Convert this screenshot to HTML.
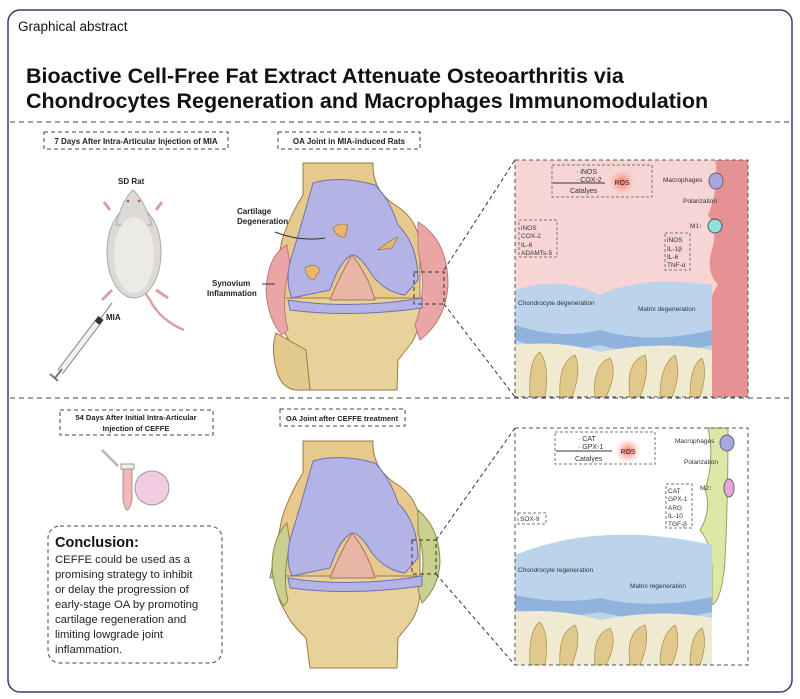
<!DOCTYPE html>
<html><head><meta charset="utf-8">
<style>
html,body{margin:0;padding:0;background:#fff;}
svg{display:block;font-family:"Liberation Sans",Arial,sans-serif;}
</style></head>
<body>
<svg width="800" height="699" viewBox="0 0 800 699" xmlns="http://www.w3.org/2000/svg">
<defs>
<radialGradient id="ros" cx="50%" cy="50%" r="50%"><stop offset="0" stop-color="#ff6b5a"/><stop offset="1" stop-color="#ffb4a8" stop-opacity="0"/></radialGradient>
</defs>
<rect x="8" y="10" width="784" height="682" rx="12" fill="#fff" stroke="#3a3d6a" stroke-width="1.5"/>
<text x="18" y="31" font-size="13.5" fill="#111">Graphical abstract</text>
<text x="26" y="83" font-size="21.5" font-weight="bold" fill="#111">Bioactive Cell-Free Fat Extract Attenuate Osteoarthritis via</text>
<text x="26" y="108" font-size="21.5" font-weight="bold" fill="#111">Chondrocytes Regeneration and Macrophages Immunomodulation</text>
<line x1="10" y1="122" x2="790" y2="122" stroke="#444" stroke-dasharray="5,4" stroke-width="1"/>
<line x1="10" y1="398" x2="790" y2="398" stroke="#444" stroke-dasharray="5,4" stroke-width="1"/>

<rect x="44" y="132" width="184" height="17" fill="none" stroke="#444" stroke-dasharray="4,3"/>
<text x="136" y="144" font-size="8" font-weight="bold" text-anchor="middle" fill="#222">7 Days After Intra-Articular Injection of MIA</text>
<rect x="278" y="132" width="142" height="17" fill="none" stroke="#444" stroke-dasharray="4,3"/>
<text x="349" y="144" font-size="8" font-weight="bold" text-anchor="middle" fill="#222">OA Joint in MIA-induced Rats</text>

<!-- rat -->
<g>
<text x="118" y="184" font-size="8" font-weight="bold" fill="#222">SD Rat</text>
<path d="M184 330 Q160 320 150 300 Q140 285 135 280" stroke="#d9a0a0" stroke-width="2.5" fill="none"/>
<path d="M110 210 L104 202 M156 210 L162 202" stroke="#d9a0a0" stroke-width="3"/>
<path d="M112 290 L102 300 M156 290 L168 298" stroke="#d9a0a0" stroke-width="3"/>
<ellipse cx="134" cy="252" rx="27" ry="46" fill="#ddd9d4" stroke="#aaa"/>
<path d="M116 225 Q122 200 133 190 Q144 200 152 225Z" fill="#ddd9d4" stroke="#aaa"/>
<ellipse cx="134" cy="255" rx="20" ry="38" fill="#eceae6"/>
<circle cx="128" cy="201" r="1.3" fill="#b55"/><circle cx="139" cy="201" r="1.3" fill="#b55"/>
<text x="106" y="320" font-size="8" font-weight="bold" fill="#222">MIA</text>
<line x1="60" y1="372" x2="101" y2="318" stroke="#888" stroke-width="7"/>
<line x1="60" y1="372" x2="101" y2="318" stroke="#f1f1f1" stroke-width="5"/>
<line x1="97" y1="323" x2="101" y2="318" stroke="#333" stroke-width="6"/>
<line x1="101" y1="318" x2="112" y2="303" stroke="#777" stroke-width="1"/>
<line x1="55" y1="378" x2="62" y2="369" stroke="#777" stroke-width="2"/>
<line x1="50" y1="374" x2="58" y2="381" stroke="#777" stroke-width="2"/>
</g>

<!-- knee top -->
<g id="knee1">
<path d="M303 163 L373 163 Q372 190 395 205 Q420 220 420 250 L420 300 L270 300 L282 240 Q290 215 303 195Z" fill="#e7c98c" stroke="#9a7a45"/>
<path d="M275 298 L420 298 Q422 330 410 345 L398 360 L397 390 L310 390 L306 360 Q290 345 285 333 Q276 320 275 298Z" fill="#e7d39a" stroke="#9a7a45"/>
<path d="M276 333 Q270 350 278 375 Q285 392 302 390 L310 390 L306 350Z" fill="#e2c98c" stroke="#9a7a45"/>
<path d="M287 245 Q268 255 266 290 Q268 320 282 335 L288 330 Q280 300 290 265Z" fill="#eaa5a5" stroke="#c07878"/>
<path d="M418 222 Q448 240 448 285 Q446 320 420 340 L415 325 Q428 290 418 250Z" fill="#eaa5a5" stroke="#c07878"/>
<path d="M313 183 Q340 175 375 185 Q390 200 398 225 Q418 245 418 280 L405 295 Q385 292 372 275 Q360 255 352 255 Q340 260 330 290 L292 298 Q284 280 292 255 Q300 230 313 183Z" fill="#b3b3e6" stroke="#7070b0"/>
<path d="M352 255 Q340 275 330 300 L375 300 Q368 275 352 255Z" fill="#e9b5a5" stroke="#a87060"/>
<path d="M288 300 Q350 310 422 298 L422 308 Q350 318 290 310Z" fill="#b3b3e6" stroke="#7070b0"/>
<g fill="#e9b76a" stroke="#8a6a3a" stroke-width="0.6">
<path d="M333 228 Q340 222 348 225 L345 237 Q337 238 333 228Z"/>
<path d="M378 250 Q390 240 398 237 L392 248Z"/>
<path d="M305 268 Q315 262 320 270 L314 280 Q306 278 305 268Z"/>
</g>
<text x="237" y="214" font-size="8" font-weight="bold" fill="#222">Cartilage</text>
<text x="237" y="224" font-size="8" font-weight="bold" fill="#222">Degeneration</text>
<path d="M275 232 Q300 242 325 238" stroke="#333" fill="none"/>
<text x="212" y="286" font-size="8" font-weight="bold" fill="#222">Synovium</text>
<text x="207" y="296" font-size="8" font-weight="bold" fill="#222">Inflammation</text>
<line x1="262" y1="284" x2="275" y2="284" stroke="#333"/>
<rect x="414" y="272" width="30" height="32" fill="none" stroke="#333" stroke-dasharray="4,3"/>
<line x1="444" y1="270" x2="515" y2="160" stroke="#333" stroke-dasharray="4,3"/>
<line x1="444" y1="304" x2="515" y2="397" stroke="#333" stroke-dasharray="4,3"/>
</g>

<!-- top detail panel -->
<g>
<rect x="515" y="160" width="233" height="237" fill="#f7d5d5"/>
<path d="M715 160 L748 160 L748 397 L712 397 L712 340 Q705 300 718 285 Q705 270 712 250 Q718 230 708 215 Q720 185 715 160Z" fill="#e79292"/>
<path d="M515 290 Q560 275 600 295 Q640 275 712 285 L712 397 L515 397Z" fill="#bcd3ec"/>
<path d="M515 325 Q560 340 600 330 Q650 345 712 330 L712 345 Q650 360 600 345 Q560 355 515 340Z" fill="#8fb3dd"/>
<path d="M515 345 Q560 340 600 352 Q660 340 712 350 L712 397 L515 397Z" fill="#f0ead0"/>
<g fill="#e0c98a" stroke="#a08040" stroke-width="0.6">
<path d="M530 397 Q528 360 540 352 Q550 365 545 397Z"/><path d="M560 397 Q558 362 575 355 Q582 370 572 397Z"/>
<path d="M595 397 Q592 365 610 358 Q618 372 606 397Z"/><path d="M630 397 Q625 362 645 355 Q650 372 640 397Z"/>
<path d="M660 397 Q660 365 675 355 Q682 372 672 397Z"/><path d="M690 397 Q690 365 702 358 Q708 372 700 397Z"/>
</g>
<rect x="515" y="160" width="233" height="237" fill="none" stroke="#555" stroke-dasharray="4,3"/>
<rect x="552" y="165" width="100" height="32" fill="none" stroke="#777" stroke-dasharray="3,2"/>
<text x="576" y="174" font-size="7" fill="#333">· iNOS</text>
<text x="576" y="182" font-size="7" fill="#333">· COX-2</text>
<line x1="553" y1="183" x2="605" y2="183" stroke="#334"/>
<text x="570" y="193" font-size="7" fill="#333">Catalyes</text>
<circle cx="622" cy="182" r="13" fill="url(#ros)"/>
<text x="622" y="185" font-size="7" text-anchor="middle" fill="#222">ROS</text>
<text x="663" y="182" font-size="6.5" fill="#333">Macrophages</text>
<ellipse cx="716" cy="181" rx="7" ry="8" fill="#a7a8e0" stroke="#666"/>
<text x="683" y="203" font-size="6.5" fill="#333">Polarization</text>
<text x="690" y="228" font-size="6.5" fill="#333">M1↑</text>
<circle cx="715" cy="226" r="7" fill="#8fe0d8" stroke="#555"/>
<rect x="519" y="220" width="38" height="37" fill="none" stroke="#777" stroke-dasharray="3,2"/>
<text x="521" y="230" font-size="6.5" fill="#333">iNOS</text><text x="521" y="238" font-size="6.5" fill="#333">COX-2</text>
<text x="521" y="247" font-size="6.5" fill="#333">IL-6</text><text x="521" y="255" font-size="6.5" fill="#333">ADAMTs-5</text>
<rect x="665" y="233" width="25" height="37" fill="none" stroke="#777" stroke-dasharray="3,2"/>
<text x="667" y="242" font-size="6.5" fill="#333">iNOS</text><text x="667" y="251" font-size="6.5" fill="#333">IL-1β</text>
<text x="667" y="259" font-size="6.5" fill="#333">IL-6</text><text x="667" y="267" font-size="6.5" fill="#333">TNF-α</text>
<text x="518" y="305" font-size="6.5" fill="#333">Chondrocyte degeneration</text>
<text x="638" y="311" font-size="6.5" fill="#333">Matrix degeneration</text>
</g>

<rect x="60" y="410" width="153" height="25" fill="none" stroke="#444" stroke-dasharray="4,3"/>
<text x="136" y="420" font-size="7.5" font-weight="bold" text-anchor="middle" fill="#222">54 Days After Initial Intra-Articular</text>
<text x="136" y="431" font-size="7.5" font-weight="bold" text-anchor="middle" fill="#222">Injection of CEFFE</text>
<rect x="280" y="409" width="125" height="17" fill="none" stroke="#444" stroke-dasharray="4,3"/>
<text x="342" y="421" font-size="7.5" font-weight="bold" text-anchor="middle" fill="#222">OA Joint after CEFFE treatment</text>

<path d="M102 450 L118 466" stroke="#bbb" stroke-width="3"/>
<path d="M123 468 L132 468 L132 500 Q127 520 123 500Z" fill="#f4b8b8" stroke="#999"/>
<rect x="121" y="464" width="13" height="5" fill="#eee" stroke="#999"/>
<circle cx="152" cy="488" r="17" fill="#f3cbe0" stroke="#999"/>

<rect x="48" y="526" width="174" height="137" rx="12" fill="none" stroke="#444" stroke-dasharray="4,3"/>
<text x="55" y="547" font-size="14.5" font-weight="bold" fill="#111">Conclusion:</text>
<g font-size="11.3" fill="#222">
<text x="55" y="563">CEFFE could be used as a</text>
<text x="55" y="578">promising strategy to inhibit</text>
<text x="55" y="593">or delay the progression of</text>
<text x="55" y="608">early-stage OA by promoting</text>
<text x="55" y="623">cartilage regeneration and</text>
<text x="55" y="638">limiting lowgrade joint</text>
<text x="55" y="653">inflammation.</text>
</g>

<!-- knee bottom -->
<g transform="translate(0,278)">
<path d="M303 163 L373 163 Q372 190 395 205 Q420 220 420 250 L420 300 L270 300 L282 240 Q290 215 303 195Z" fill="#e7c98c" stroke="#9a7a45"/>
<path d="M275 298 L420 298 Q422 330 410 345 L398 360 L397 390 L310 390 L306 360 Q290 345 285 333 Q276 320 275 298Z" fill="#e7d39a" stroke="#9a7a45"/>
<path d="M287 245 Q272 260 272 290 Q274 315 284 328 L288 322 Q282 300 290 265Z" fill="#c9cf8c" stroke="#8a8a4a"/>
<path d="M418 232 Q440 250 440 285 Q438 310 422 325 L418 312 Q428 285 418 255Z" fill="#c9cf8c" stroke="#8a8a4a"/>
<path d="M313 183 Q340 175 375 185 Q390 200 398 225 Q418 245 418 280 L405 295 Q385 292 372 275 Q360 255 352 255 Q340 260 330 290 L292 298 Q284 280 292 255 Q300 230 313 183Z" fill="#b3b3e6" stroke="#7070b0"/>
<path d="M352 255 Q340 275 330 300 L375 300 Q368 275 352 255Z" fill="#e9b5a5" stroke="#a87060"/>
<path d="M288 300 Q350 310 422 298 L422 308 Q350 318 290 310Z" fill="#b3b3e6" stroke="#7070b0"/>
<rect x="412" y="262" width="24" height="34" fill="none" stroke="#333" stroke-dasharray="4,3"/>
<line x1="436" y1="262" x2="515" y2="150" stroke="#333" stroke-dasharray="4,3"/>
<line x1="436" y1="296" x2="515" y2="387" stroke="#333" stroke-dasharray="4,3"/>
</g>

<g>
<rect x="515" y="428" width="233" height="237" fill="#fff"/>
<path d="M708 428 L728 428 Q728 500 725 560 Q722 600 712 605 L712 570 Q712 545 700 530 Q712 510 705 490 Q715 460 708 428Z" fill="#dce8a8" stroke="#9aa060"/>
<path d="M515 555 Q600 520 712 545 L712 665 L515 665Z" fill="#bcd3ec"/>
<path d="M515 595 Q560 605 600 598 Q650 610 712 597 L712 612 Q650 625 600 612 Q560 620 515 610Z" fill="#8fb3dd"/>
<path d="M515 612 Q560 608 600 620 Q660 608 712 618 L712 665 L515 665Z" fill="#f0ead0"/>
<g fill="#e0c98a" stroke="#a08040" stroke-width="0.6">
<path d="M530 665 Q528 630 540 622 Q550 635 545 665Z"/><path d="M560 665 Q558 632 575 625 Q582 640 572 665Z"/>
<path d="M595 665 Q592 635 610 628 Q618 642 606 665Z"/><path d="M630 665 Q625 632 645 625 Q650 642 640 665Z"/>
<path d="M660 665 Q660 635 675 625 Q682 642 672 665Z"/><path d="M690 665 Q690 635 702 628 Q708 642 700 665Z"/>
</g>
<rect x="515" y="428" width="233" height="237" fill="none" stroke="#555" stroke-dasharray="4,3"/>
<rect x="555" y="432" width="100" height="32" fill="none" stroke="#777" stroke-dasharray="3,2"/>
<text x="578" y="441" font-size="7" fill="#333">· CAT</text>
<text x="578" y="449" font-size="7" fill="#333">· GPX-1</text>
<line x1="556" y1="451" x2="612" y2="451" stroke="#334"/>
<text x="575" y="461" font-size="7" fill="#333">Catalyes</text>
<circle cx="628" cy="451" r="13" fill="url(#ros)"/>
<text x="628" y="454" font-size="7" text-anchor="middle" fill="#222">ROS</text>
<text x="675" y="443" font-size="6.5" fill="#333">Macrophages</text>
<ellipse cx="727" cy="443" rx="7" ry="8" fill="#a7a8e0" stroke="#666"/>
<text x="684" y="464" font-size="6.5" fill="#333">Polarization</text>
<text x="700" y="490" font-size="6.5" fill="#333">M2↑</text>
<ellipse cx="729" cy="488" rx="5" ry="9" fill="#e6a8d8" stroke="#666"/>
<rect x="666" y="484" width="26" height="44" fill="none" stroke="#777" stroke-dasharray="3,2"/>
<text x="668" y="493" font-size="6.5" fill="#333">CAT</text><text x="668" y="501" font-size="6.5" fill="#333">GPX-1</text>
<text x="668" y="510" font-size="6.5" fill="#333">ARG</text><text x="668" y="518" font-size="6.5" fill="#333">IL-10</text>
<text x="668" y="526" font-size="6.5" fill="#333">TGF-β</text>
<rect x="518" y="513" width="28" height="11" fill="none" stroke="#777" stroke-dasharray="3,2"/>
<text x="520" y="521" font-size="6.5" fill="#333">SOX-9</text>
<text x="518" y="572" font-size="6.5" fill="#333">Chondrocyte regeneration</text>
<text x="630" y="588" font-size="6.5" fill="#333">Matrix regeneration</text>
</g>
</svg>
</body></html>
